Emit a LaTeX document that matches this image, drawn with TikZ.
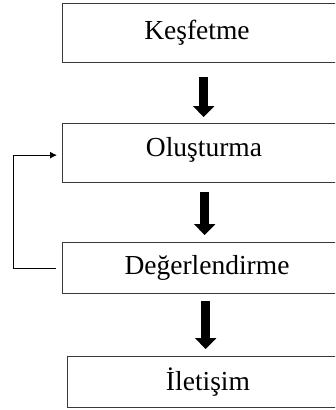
\documentclass[tikz,border=0pt]{standalone}
\usepackage{fontspec}
\setmainfont{Liberation Serif}
\usepackage{tikz}
\usetikzlibrary{arrows.meta, positioning, calc}
\definecolor{boxline}{HTML}{3A3A3A}
\tikzstyle{stage} = [rectangle, draw=boxline, line width=1.3pt, minimum width=288pt, minimum height=59pt, anchor=north west, inner sep=0pt]
\tikzstyle{stagetext} = [font=\fontsize{27.5}{31}\selectfont, inner sep=0pt]
\tikzstyle{bigarrow} = [line width=9pt, -{Triangle[width=21pt, length=11pt]}, color=black]
\tikzstyle{loop} = [line width=1pt, -{Latex[length=7pt, width=7pt]}, color=black]

\begin{document}
\begin{tikzpicture}[x=1pt, y=-1pt]
    \useasboundingbox (0,0) rectangle (335,410);
    \clip (0,0) rectangle (335,410);

    \node[stage] (kesfetme) at (62,3) {};
    \node[stage] (olusturma) at (62,123) {};
    \node[stage, minimum height=51pt] (degerlendirme) at (62,242) {};
    \node[stage, minimum height=51pt] (iletisim) at (67,356) {};

    \node[stagetext] (t1) at (197,33) {Keşfetme};
    \node[stagetext] (t2) at (204,150) {Oluşturma};
    \node[stagetext] (t3) at (207,268) {Değerlendirme};
    \node[stagetext] (t4) at (208,382) {İletişim};

    % main flow
    \draw[bigarrow, shorten <=14pt, shorten >=6pt] ([xshift=-3pt]kesfetme.south) -- ([xshift=-3pt]olusturma.north);
    \draw[bigarrow, shorten <=9pt, shorten >=7pt] ([xshift=-2pt]olusturma.south) -- ([xshift=-2pt]degerlendirme.north);
    \draw[bigarrow, shorten <=7pt, shorten >=7pt] ([xshift=-1pt]degerlendirme.south) -- ([xshift=-6pt]iletisim.north);

    % feedback
    \draw[loop, shorten <=6pt, shorten >=5pt] (degerlendirme.west) -- ++(-49,0) |- ([yshift=-2pt]olusturma.west);
\end{tikzpicture}
\end{document}
